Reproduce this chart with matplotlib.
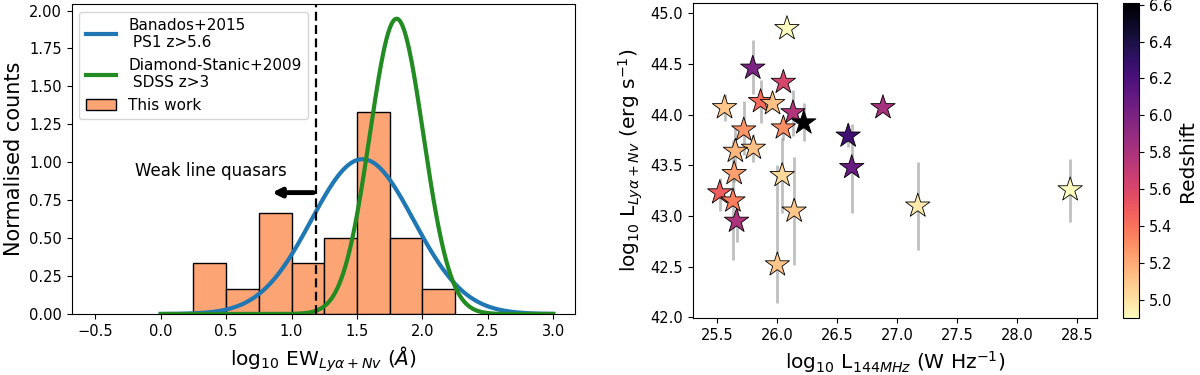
import numpy as np
import matplotlib
matplotlib.use("Agg")
import matplotlib.pyplot as plt

# --- left panel: EW distribution ---
bin_edges = [0.25, 0.5, 0.75, 1.0, 1.25, 1.5, 1.75, 2.0, 2.25]
counts = [2, 1, 4, 2, 3, 8, 3, 1]  # 24 quasars

# log-normal fits from the literature (mean, sigma in log EW)
banados_mu, banados_sigma = 1.542, 0.391
ds_mu, ds_sigma = 1.803, 0.205
weak_line_cut = np.log10(15.4)

# --- right panel: radio vs line luminosity ---
log_l144 = [26.08, 25.795, 26.05, 25.86, 25.96, 25.56, 26.13, 26.22, 26.05, 25.72,
            26.59, 25.80, 25.65, 26.62, 25.64, 26.04, 25.52, 25.63, 25.66, 26.14,
            26.00, 27.17, 28.44, 26.88]
log_lya = [44.85, 44.46, 44.32, 44.13, 44.11, 44.07, 44.02, 43.92, 43.87, 43.85,
           43.79, 43.67, 43.64, 43.48, 43.42, 43.40, 43.23, 43.15, 42.95, 43.05,
           42.52, 43.10, 43.26, 44.07]
lya_err_lo = [0.03, 0.26, 0.05, 0.21, 0.05, 0.13, 0.23, 0.18, 0.12, 0.25,
              0.11, 0.14, 0.16, 0.45, 0.08, 0.37, 0.18, 0.58, 0.21, 0.53,
              0.38, 0.43, 0.32, 0.03]
lya_err_hi = [0.03, 0.28, 0.05, 0.21, 0.05, 0.13, 0.22, 0.20, 0.12, 0.28,
              0.12, 0.14, 0.23, 0.43, 0.08, 0.37, 0.15, 0.60, 0.19, 0.53,
              0.98, 0.43, 0.30, 0.03]
redshift = [4.90, 6.00, 5.62, 5.42, 5.12, 5.10, 5.78, 6.61, 5.30, 5.28,
            6.25, 5.12, 5.16, 6.08, 5.24, 5.03, 5.48, 5.36, 5.80, 5.10,
            5.10, 4.97, 4.90, 5.82]

fig = plt.figure(figsize=(12, 3.75), dpi=100)

ax1 = fig.add_axes([0.0598, 0.1627, 0.4194, 0.827])
ax1.hist(bin_edges[:-1], bins=bin_edges, weights=counts, density=True,
         color='#fca474', edgecolor='black', lw=1, label='This work')

x = np.linspace(0, 3, 500)
ax1.plot(x, np.exp(-0.5 * ((x - banados_mu) / banados_sigma) ** 2) / (np.sqrt(2 * np.pi) * banados_sigma),
         color='#1f77b4', lw=3, label='Banados+2015\n PS1 z>5.6')
ax1.plot(x, np.exp(-0.5 * ((x - ds_mu) / ds_sigma) ** 2) / (np.sqrt(2 * np.pi) * ds_sigma),
         color='forestgreen', lw=3, label='Diamond-Stanic+2009\n SDSS z>3')

ax1.axvline(weak_line_cut, color='black', ls=(0, (4, 2)), lw=1.6)
ax1.annotate('', xy=(0.83, 0.8), xytext=(weak_line_cut, 0.8),
             arrowprops=dict(arrowstyle='-|>,head_width=0.25,head_length=0.5', color='black', lw=3.5))
ax1.text(0.38, 0.94, 'Weak line quasars', ha='center', va='center', fontsize=12)

ax1.set_xlim(-0.68, 3.167)
ax1.set_ylim(0, 2.044)
ax1.set_xlabel(r'log$_{10}$ EW$_{Ly\alpha + Nv}$ ($\AA$)', fontsize=14.5)
ax1.set_ylabel('Normalised counts', fontsize=15)
ax1.tick_params(labelsize=10.5)
handles, labels = ax1.get_legend_handles_labels()
ax1.legend(handles[1:] + handles[:1], labels[1:] + labels[:1], loc='upper left', fontsize=11)

ax2 = fig.add_axes([0.5773, 0.1507, 0.3372, 0.842])
cax = fig.add_axes([0.9358, 0.1507, 0.0133, 0.842])
ax2.errorbar(log_l144, log_lya, yerr=[lya_err_lo, lya_err_hi], fmt='none',
             ecolor='gray', alpha=0.5, lw=2, zorder=1)
sc = ax2.scatter(log_l144, log_lya, c=redshift, cmap='magma_r', vmin=4.897, vmax=6.611,
                 marker='*', s=340, edgecolors='black', linewidths=0.6, zorder=2)
ax2.set_xlim(25.295, 28.667)
ax2.set_ylim(41.99, 45.104)
ax2.set_xlabel(r'log$_{10}$ L$_{144MHz}$ (W Hz$^{-1}$)', fontsize=14.5)
ax2.set_ylabel(r'log$_{10}$ L$_{Ly\alpha + Nv}$ (erg s$^{-1}$)', fontsize=14.5)
ax2.tick_params(labelsize=10.5)

cb = fig.colorbar(sc, cax=cax)
cb.set_ticks([5.0, 5.2, 5.4, 5.6, 5.8, 6.0, 6.2, 6.4, 6.6])
cb.ax.tick_params(labelsize=10.5)
cb.set_label('Redshift', fontsize=14.5)

fig.savefig('out.png', dpi=100)
